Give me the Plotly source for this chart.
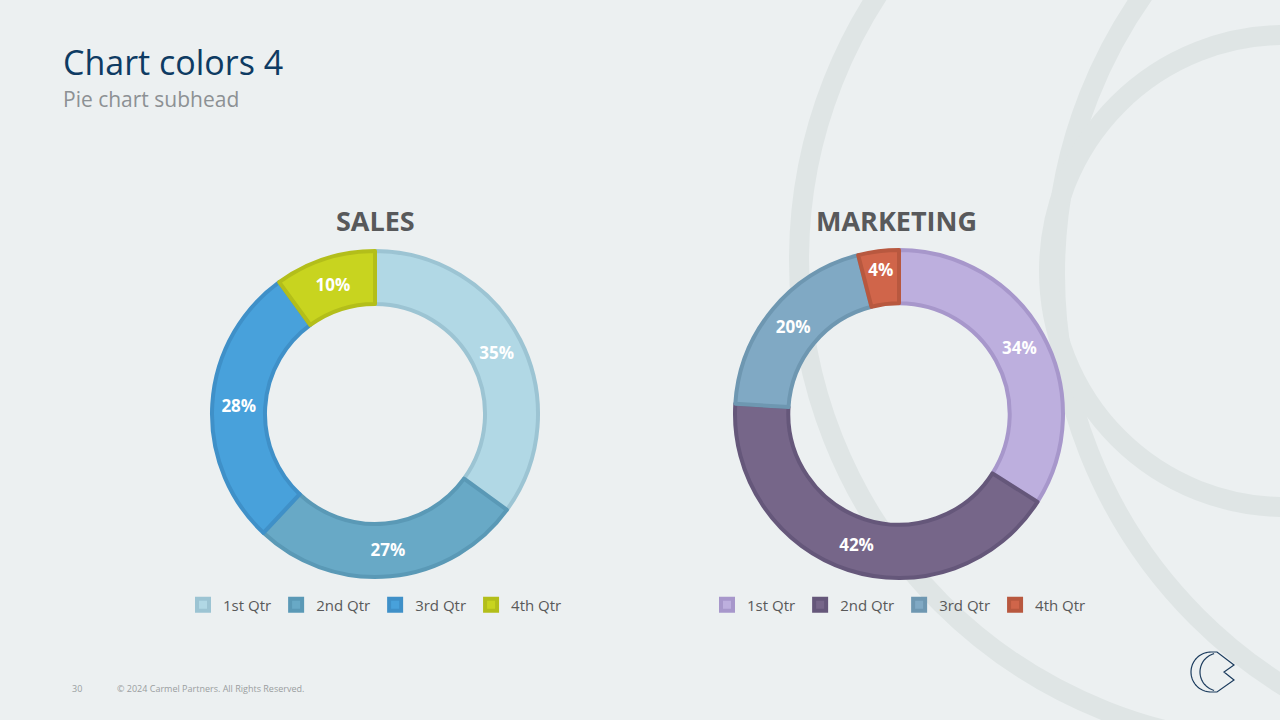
import math
import plotly.graph_objects as go

W, H = 1280, 720

sales_labels = ["1st Qtr", "2nd Qtr", "3rd Qtr", "4th Qtr"]
# same quarter names; a zero-width space keeps the two pies' legend entries separate
marketing_labels = ["1st Qtr\u200b", "2nd Qtr\u200b", "3rd Qtr\u200b", "4th Qtr\u200b"]
sales_values = [35, 27, 28, 10]
marketing_values = [34, 42, 20, 4]

sales_colors = ["#B1D8E5", "#68A9C6", "#48A1DB", "#C8D41F"]
sales_edges = ["#9CC4D3", "#5A99B6", "#3F90C8", "#B3BE1A"]
marketing_colors = ["#BDAFDE", "#766689", "#80A9C4", "#D0654A"]
marketing_edges = ["#A797CB", "#65577A", "#6E97B1", "#B8583F"]

BG = "#ECF0F1"
BAND = "#DFE5E5"
GRAY_TXT = "#58595B"
FONT = "Open Sans"


def px_x(x):
    return x / W


def px_y(y):
    return 1 - y / H


def domain(cx, cy, r):
    return dict(x=[px_x(cx - r), px_x(cx + r)], y=[px_y(cy + r), px_y(cy - r)])


fig = go.Figure()

fig.add_trace(go.Pie(
    labels=sales_labels, values=sales_values, sort=False, direction="clockwise",
    hole=0.675, domain=domain(375, 414, 163),
    marker=dict(colors=sales_colors, line=dict(color=sales_edges, width=4)),
    textinfo="percent", textposition="inside", insidetextorientation="horizontal",
    textfont=dict(family=FONT, size=17, color="white", weight="bold"),
    legend="legend", hoverinfo="label+percent",
))
fig.add_trace(go.Pie(
    labels=marketing_labels, values=marketing_values, sort=False, direction="clockwise",
    hole=0.675, domain=domain(899, 414, 164),
    marker=dict(colors=marketing_colors, line=dict(color=marketing_edges, width=4)),
    textinfo="percent", textposition="inside", insidetextorientation="horizontal",
    textfont=dict(family=FONT, size=17, color="white", weight="bold"),
    legend="legend2", hoverinfo="label+percent",
))

# decorative background rings
shapes = []
for cx, cy, r in [(1284, 260, 485), (1540, 274, 485), (1285, 271, 236)]:
    shapes.append(dict(type="circle", xref="paper", yref="paper",
                       x0=px_x(cx - r), x1=px_x(cx + r), y0=px_y(cy + r), y1=px_y(cy - r),
                       line=dict(color=BAND, width=20), layer="below"))


# logo
def arc_pts(cx, cy, r, a0, a1, n=40):
    pts = []
    for i in range(n + 1):
        a = math.radians(a0 + (a1 - a0) * i / n)
        pts.append((cx + r * math.cos(a), cy + r * math.sin(a)))
    return pts


def to_path(pts, close=False):
    s = "M " + " L ".join(f"{px_x(x):.5f},{px_y(y):.5f}" for x, y in pts)
    return s + (" Z" if close else "")


LOGO = "#1C3C5E"
outer = arc_pts(1211, 672, 20, 90, 270)  # bottom -> left -> top
outline = outer + [(1217, 652), (1234, 665), (1224, 672), (1234, 680), (1217, 692)]
shapes.append(dict(type="path", xref="paper", yref="paper",
                   path=to_path(outline, close=True), line=dict(color=LOGO, width=1.2)))
inner = arc_pts(1219, 672, 19, 105, 255)
shapes.append(dict(type="path", xref="paper", yref="paper",
                   path=to_path(inner), line=dict(color=LOGO, width=1.2)))

annotations = [
    dict(text="Chart colors 4", x=px_x(61), y=px_y(62), xanchor="left", yanchor="middle",
         font=dict(family=FONT, size=34, color="#0E3B63")),
    dict(text="Pie chart subhead", x=px_x(61), y=px_y(99), xanchor="left", yanchor="middle",
         font=dict(family=FONT, size=21, color="#8C9194")),
    dict(text="SALES", x=px_x(375), y=px_y(220), xanchor="center", yanchor="middle",
         font=dict(family=FONT, size=27, color=GRAY_TXT, weight="bold")),
    dict(text="MARKETING", x=px_x(896), y=px_y(220), xanchor="center", yanchor="middle",
         font=dict(family=FONT, size=27, color=GRAY_TXT, weight="bold")),
    dict(text="30", x=px_x(70), y=px_y(688), xanchor="left", yanchor="middle",
         font=dict(family=FONT, size=9, color="#9A9EA0")),
    dict(text="© 2024 Carmel Partners. All Rights Reserved.", x=px_x(115), y=px_y(688),
         xanchor="left", yanchor="middle", font=dict(family=FONT, size=9, color="#9A9EA0")),
]
for a in annotations:
    a.update(xref="paper", yref="paper", showarrow=False)

legend_common = dict(orientation="h", xanchor="center", yanchor="middle",
                     font=dict(family=FONT, size=15, color="#595959"),
                     bgcolor="rgba(0,0,0,0)", itemwidth=30, traceorder="normal",
                     itemclick=False, itemdoubleclick=False)

fig.update_layout(
    width=W, height=H,
    paper_bgcolor=BG, plot_bgcolor=BG,
    margin=dict(l=0, r=0, t=0, b=0),
    showlegend=True,
    legend=dict(x=px_x(375), y=px_y(605), **legend_common),
    legend2=dict(x=px_x(899), y=px_y(605), **legend_common),
    shapes=shapes, annotations=annotations,
    uniformtext=dict(minsize=17, mode="show"),
)

fig.write_html("out.html", config={"displayModeBar": False},
               post_script="document.body.style.margin='0';document.body.style.overflow='hidden';")
